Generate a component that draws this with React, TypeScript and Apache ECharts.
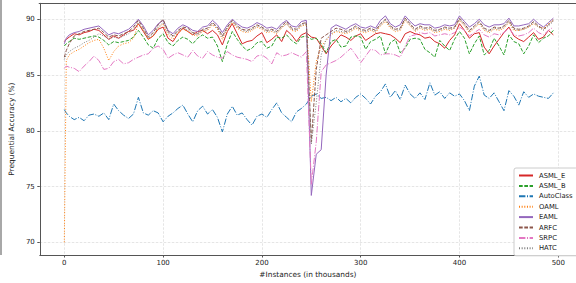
import React, { useEffect, useRef } from "react";
import * as echarts from "echarts";

const instances = [0, 2, 5, 10, 15, 20, 25, 30, 35, 40, 45, 50, 55, 60, 65, 70, 75, 80, 85, 90, 95, 100, 105, 110, 115, 120, 125, 130, 135, 140, 145, 150, 155, 160, 165, 170, 175, 180, 185, 190, 195, 200, 205, 210, 215, 220, 225, 230, 235, 240, 245, 250, 255, 260, 265, 270, 275, 280, 285, 290, 295, 300, 305, 310, 315, 320, 325, 330, 335, 340, 345, 350, 355, 360, 365, 370, 375, 380, 385, 390, 395, 400, 405, 410, 415, 420, 425, 430, 435, 440, 445, 450, 455, 460, 465, 470, 475, 480, 485, 490, 495];

const asmlE = [88.0, 88.2, 88.4, 88.7, 88.6, 88.8, 88.9, 89.1, 89.0, 88.6, 88.2, 88.5, 88.3, 88.6, 88.9, 89.0, 89.6, 88.9, 88.2, 88.5, 89.1, 89.3, 88.3, 88.0, 88.7, 89.2, 88.9, 88.6, 88.9, 89.0, 88.7, 89.0, 88.6, 87.7, 88.9, 89.6, 88.7, 87.8, 88.0, 88.1, 88.5, 88.8, 87.9, 88.2, 88.6, 88.0, 89.0, 88.6, 88.0, 88.6, 88.8, 88.4, 88.3, 87.6, 86.9, 87.6, 88.1, 88.6, 88.4, 88.1, 88.5, 88.7, 88.1, 88.4, 88.7, 88.8, 88.7, 88.6, 88.3, 87.9, 88.7, 88.9, 88.7, 88.6, 88.3, 88.4, 88.0, 87.8, 87.4, 88.1, 88.6, 89.6, 89.0, 88.3, 88.7, 88.8, 87.5, 86.9, 87.6, 88.2, 88.8, 89.3, 88.5, 88.2, 88.0, 88.4, 88.8, 88.2, 88.4, 89.0, 88.6];

const asmlB = [87.6, 87.8, 88.0, 88.3, 88.2, 88.3, 88.4, 88.5, 88.4, 88.1, 87.7, 88.0, 87.9, 88.0, 88.1, 88.4, 89.0, 88.4, 87.7, 87.4, 88.3, 88.7, 87.9, 87.6, 88.1, 88.4, 88.2, 87.8, 88.3, 88.6, 88.3, 88.4, 87.6, 86.2, 87.8, 88.9, 88.2, 87.6, 87.2, 87.4, 87.9, 88.0, 87.4, 87.6, 88.4, 88.3, 88.6, 88.1, 87.8, 88.4, 88.5, 88.2, 88.3, 87.8, 87.0, 88.0, 88.2, 87.5, 87.6, 88.4, 88.5, 88.4, 87.3, 88.0, 88.2, 88.5, 86.9, 87.9, 88.2, 87.0, 87.4, 88.2, 88.3, 88.2, 87.3, 87.0, 86.6, 88.1, 87.6, 87.2, 88.2, 88.9, 88.3, 86.9, 87.8, 88.5, 86.8, 87.2, 88.3, 87.6, 86.8, 88.6, 88.0, 87.8, 86.9, 87.6, 88.6, 87.9, 88.3, 88.5, 89.0];

const autoClass = [81.9, 81.6, 81.3, 81.0, 81.2, 80.9, 81.4, 81.5, 81.3, 81.6, 81.0, 82.4, 81.8, 81.4, 81.1, 81.5, 83.0, 81.6, 81.4, 81.8, 81.6, 80.8, 81.3, 81.6, 82.0, 82.3, 81.5, 80.8, 81.8, 82.2, 81.5, 81.9, 81.2, 79.9, 81.5, 82.2, 81.4, 81.6, 81.0, 80.5, 81.3, 81.5, 81.2, 81.9, 82.5, 81.6, 81.2, 80.8, 81.7, 82.0, 82.4, 83.1, 83.3, 82.9, 83.0, 82.7, 83.0, 82.6, 82.9, 82.5, 83.0, 83.3, 82.9, 82.4, 83.1, 83.5, 84.2, 83.0, 83.6, 82.8, 84.1, 83.3, 82.9, 83.4, 82.8, 84.3, 83.2, 83.5, 82.9, 83.4, 83.1, 83.3, 82.7, 81.8, 84.0, 84.9, 83.2, 82.9, 83.4, 82.6, 81.8, 83.6, 83.1, 82.3, 83.5, 83.0, 83.3, 83.1, 83.0, 82.9, 83.4];

const oaml = [70.0, 86.3, 86.8, 87.1, 87.3, 87.6, 87.9, 88.1, 88.2, 87.4, 86.3, 87.1, 87.6, 87.8, 87.9, 88.3, 89.6, 89.0, 88.2, 88.5, 89.2, 89.6, 88.6, 88.2, 88.8, 89.1, 88.9, 88.6, 88.5, 88.9, 89.0, 89.5, 89.1, 88.2, 89.1, 89.7, 89.2, 88.9, 88.8, 89.0, 89.3, 89.1, 88.8, 88.9, 88.7, 89.2, 89.6, 89.0, 88.9, 89.4, 89.5, 82.6, 86.2, 87.6, 88.1, 88.6, 88.9, 88.8, 88.7, 88.9, 89.2, 88.9, 88.8, 89.0, 88.8, 89.4, 89.8, 89.2, 88.9, 89.0, 89.9, 89.4, 88.9, 89.2, 89.0, 89.1, 88.8, 88.9, 89.1, 89.0, 89.2, 89.9, 89.4, 88.8, 89.2, 89.6, 89.0, 88.8, 89.1, 89.0, 89.2, 89.7, 89.0, 89.0, 89.1, 89.3, 89.6, 89.3, 89.2, 89.6, 90.0];

const eaml = [87.8, 88.3, 88.6, 88.8, 88.9, 89.1, 89.2, 89.3, 89.4, 89.0, 88.6, 88.8, 88.7, 88.9, 89.1, 89.5, 90.0, 89.4, 88.6, 89.0, 89.6, 89.9, 89.0, 88.7, 89.2, 89.5, 89.3, 89.0, 88.9, 89.3, 89.4, 89.9, 89.5, 88.8, 89.5, 90.0, 89.6, 89.3, 89.2, 89.4, 89.7, 89.5, 89.2, 89.3, 89.1, 89.6, 89.9, 89.4, 89.3, 89.8, 89.9, 74.2, 77.9, 78.3, 85.0, 89.2, 89.5, 89.3, 89.1, 89.4, 89.6, 89.3, 89.2, 89.4, 89.2, 89.9, 90.3, 89.6, 89.3, 89.5, 90.3, 89.8, 89.4, 89.6, 89.5, 89.5, 89.2, 89.3, 89.5, 89.4, 89.5, 90.3, 89.8, 89.3, 89.6, 90.0, 89.5, 89.3, 89.5, 89.5, 89.6, 90.1, 89.4, 89.4, 89.5, 89.6, 90.0, 89.6, 89.3, 89.7, 90.1];

const arfc = [86.6, 87.2, 87.8, 88.5, 88.7, 88.9, 89.0, 89.1, 89.2, 88.8, 88.4, 88.6, 88.5, 88.7, 88.9, 89.3, 89.9, 89.2, 88.4, 88.8, 89.5, 90.0, 88.9, 88.5, 89.0, 89.3, 89.2, 88.8, 88.7, 89.1, 89.2, 89.7, 89.3, 88.5, 89.3, 89.9, 89.4, 89.1, 89.0, 89.2, 89.5, 89.3, 89.0, 89.1, 88.9, 89.4, 89.8, 89.2, 89.1, 89.6, 89.7, 79.0, 85.5, 88.3, 88.6, 88.9, 89.2, 89.1, 88.9, 89.1, 89.4, 89.1, 89.0, 89.2, 89.0, 89.6, 90.0, 89.4, 89.1, 89.2, 90.1, 89.6, 89.1, 89.4, 89.2, 89.3, 89.0, 89.1, 89.3, 89.2, 89.3, 90.1, 89.6, 89.0, 89.4, 89.8, 89.2, 89.0, 89.3, 89.2, 89.4, 89.9, 89.2, 89.1, 89.2, 89.4, 89.8, 89.4, 89.1, 89.5, 89.9];

const srpc = [85.6, 85.8, 85.7, 85.6, 85.3, 85.8, 86.2, 86.7, 86.3, 85.5, 85.6, 86.2, 86.4, 86.0, 86.1, 86.4, 86.6, 86.8, 86.9, 87.4, 87.6, 87.3, 86.5, 86.8, 87.0, 86.8, 86.6, 87.2, 86.7, 86.5, 87.1, 86.8, 86.6, 86.5, 87.1, 86.8, 86.6, 86.5, 86.4, 86.2, 86.7, 86.8, 86.5, 86.0, 87.0, 86.7, 86.8, 87.0, 86.8, 86.6, 87.1, 75.2, 79.0, 85.3, 85.9, 86.1, 86.3, 86.6, 87.0, 87.4, 86.8, 86.1, 86.7, 87.3, 87.2, 86.8, 86.9, 86.9, 86.8, 86.6, 87.6, 88.5, 88.6, 88.8, 88.7, 88.8, 88.5, 88.6, 88.7, 88.6, 88.8, 89.3, 89.0, 88.5, 88.8, 89.1, 88.6, 88.4, 88.7, 88.6, 88.8, 89.2, 88.6, 88.5, 88.6, 88.8, 89.2, 88.8, 88.6, 89.0, 89.3];

const hatc = [86.4, 86.8, 87.1, 87.4, 87.6, 87.9, 88.1, 88.4, 88.7, 88.5, 88.2, 88.4, 88.3, 88.5, 88.7, 89.1, 89.7, 89.0, 88.3, 88.6, 89.3, 89.7, 88.8, 88.4, 88.9, 89.2, 89.0, 88.7, 88.6, 89.0, 89.1, 89.6, 89.2, 88.4, 89.2, 89.8, 89.3, 89.0, 88.9, 89.1, 89.4, 89.2, 88.9, 89.0, 88.8, 89.3, 89.6, 89.1, 89.0, 89.5, 89.6, 78.8, 82.5, 86.8, 88.2, 88.7, 89.0, 88.9, 88.8, 89.0, 89.3, 89.0, 88.9, 89.1, 88.9, 89.5, 89.9, 89.3, 89.0, 89.1, 90.0, 89.5, 89.0, 89.3, 89.1, 89.2, 88.9, 89.0, 89.2, 89.1, 89.2, 90.0, 89.5, 88.9, 89.3, 89.7, 89.1, 88.9, 89.2, 89.1, 89.3, 89.8, 89.1, 89.0, 89.1, 89.3, 89.7, 89.3, 89.0, 89.4, 89.8];

const seriesNames = ["ASML_E", "ASML_B", "AutoClass", "OAML", "EAML", "ARFC", "SRPC", "HATC"];
const seriesValues = [asmlE, asmlB, autoClass, oaml, eaml, arfc, srpc, hatc];
const seriesColors = ["#d62728", "#2ca02c", "#1f77b4", "#ff7f0e", "#9467bd", "#8c564b", "#e377c2", "#7f7f7f"];
const DASHED = [3.7, 1.6];
const DOTTED = [1, 1.65];
const DASHDOT = [6.4, 1.6, 1, 1.6];
const seriesDash: any[] = ["solid", DASHED, DASHDOT, DOTTED, "solid", DASHED, DASHDOT, DOTTED];

const FONT = "DejaVu Sans";

export default function App() {
  const ref = useRef<HTMLDivElement>(null);
  useEffect(() => {
    document.body.style.margin = "0";
    if (!ref.current) return;
    const chart = echarts.init(ref.current, null, { renderer: "svg" });
    chart.setOption({
      animation: false,
      backgroundColor: "#ffffff",
      grid: { left: 38.75, right: 0, top: 3.3, bottom: 28, show: false },
      xAxis: {
        type: "value",
        min: -24.8,
        max: 517.9,
        splitNumber: 5,
        minInterval: 100,
        maxInterval: 100,
        name: "#Instances (in thousands)",
        nameLocation: "middle",
        nameGap: 13,
        nameTextStyle: { fontFamily: FONT, fontSize: 7.4, color: "#222" },
        axisLine: { show: true, onZero: false, lineStyle: { color: "#555", width: 1 } },
        axisTick: { show: true, length: 2.5, lineStyle: { color: "#555" } },
        axisLabel: { showMinLabel: false, showMaxLabel: false, fontFamily: FONT, fontSize: 7, color: "#222", margin: 4 },
        splitLine: { show: true, lineStyle: { color: "#dedede", type: [2.5, 1.5], width: 0.8 } },
      },
      yAxis: {
        type: "value",
        min: 68.86,
        max: 91.43,
        splitNumber: 4,
        minInterval: 5,
        maxInterval: 5,
        name: "Prequential Accuracy (%)",
        nameLocation: "middle",
        nameGap: 16,
        nameTextStyle: { fontFamily: FONT, fontSize: 7.4, color: "#222" },
        axisLine: { show: true, onZero: false, lineStyle: { color: "#555", width: 1 } },
        axisTick: { show: true, length: 2.5, lineStyle: { color: "#555" } },
        axisLabel: { showMinLabel: false, showMaxLabel: false, fontFamily: FONT, fontSize: 7, color: "#222", margin: 5 },
        splitLine: { show: true, lineStyle: { color: "#dedede", type: [2.5, 1.5], width: 0.8 } },
      },
      legend: {
        orient: "vertical",
        left: 514,
        top: 168,
        itemWidth: 14,
        itemHeight: 7,
        itemGap: 3.4,
        padding: [4, 5, 4, 4],
        backgroundColor: "#ffffff",
        borderColor: "#cccccc",
        borderWidth: 1,
        borderRadius: 2,
        itemStyle: { opacity: 0 },
        textStyle: { fontFamily: FONT, fontSize: 6.8, color: "#222", padding: [0, 0, 0, 1] },
        data: seriesNames,
      },
      graphic: [
        { type: "rect", shape: { x: 0, y: 0, width: 2, height: 255 }, style: { fill: "#a8a8a8" }, silent: true },
        { type: "line", shape: { x1: 38.75, y1: 3.5, x2: 576, y2: 3.5 }, style: { stroke: "#555", lineWidth: 1 }, silent: true, z: 10 },
      ],
      series: seriesNames.map((name, i) => ({
        name,
        type: "line",
        symbol: "none",
        showSymbol: false,
        z: 2 + i,
        data: instances.map((x, j) => [x, seriesValues[i][j]]),
        lineStyle: { color: seriesColors[i], width: 1, type: seriesDash[i] },
        itemStyle: { color: seriesColors[i] },
      })),
    });
    return () => chart.dispose();
  }, []);
  return <div ref={ref} style={{ width: 576, height: 283 }} />;
}
